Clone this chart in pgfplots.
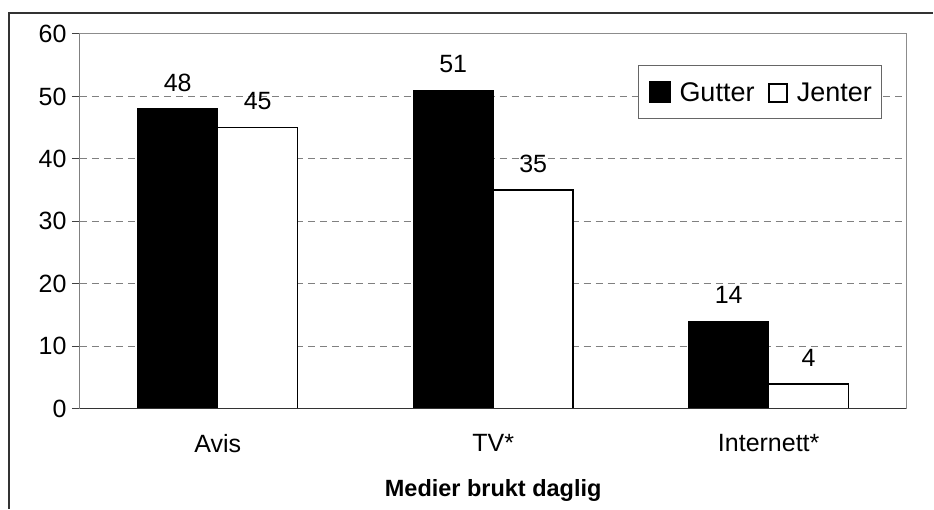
\documentclass[border=0pt]{standalone}
\usepackage{pgfplots}
\pgfplotsset{compat=1.18}
\usepackage{fontspec}
\setmainfont{Liberation Sans}

\begin{document}
\begin{tikzpicture}
  \begin{axis}[
      name=ax,
      scale only axis,
      width=827pt, height=375pt,
      ybar=0pt, bar width=80pt,
      xmin=-0.5, xmax=2.5,
      ymin=0, ymax=60,
      ytick={0,10,...,60},
      xtick={0,1,2},
      xticklabels={Avis,TV*,Internett*},
      extra x ticks={-0.5,0.5,1.5,2.5},
      extra x tick labels={},
      extra x tick style={major tick length=8pt, tick style={draw=gray!70!black, line width=1pt}},
      major x tick style={draw=none},
      xtick pos=bottom, ytick pos=left,
      tick align=outside,
      major tick length=8pt,
      tick style={draw=black!75, line width=1pt},
      axis line style={draw=gray!90, line width=1pt},
      ymajorgrids,
      grid style={draw=gray, line width=1pt, dash pattern=on 7pt off 5pt},
      tick label style={font=\fontsize{25}{29}\selectfont},
      /pgf/number format/assume math mode=true,
      yticklabel style={xshift=-2pt},
      xticklabel style={yshift=-14pt},
      xlabel={\textbf{Medier brukt daglig}},
      xlabel style={font=\fontsize{23.5}{27}\selectfont, yshift=-4pt},
      nodes near coords,
      every node near coord/.append style={font=\fontsize{25}{29}\selectfont, inner sep=0pt, anchor=south, yshift=17pt},
      legend style={at={(0.971,0.917)}, anchor=north east, legend columns=2,
        draw=gray!80!black, line width=1pt, fill=white,
        font=\fontsize{27}{31}\selectfont,
        nodes={inner sep=0pt},
        inner xsep=10pt, inner ysep=15pt,
        /tikz/every odd column/.append style={column sep=9pt},
        /tikz/every even column/.append style={column sep=14pt}},
      legend cell align=left,
    ]
    \addplot[fill=black, draw=black, line width=1pt,
      legend image code/.code={\draw[fill=black, draw=black, line width=1pt] (0pt,-9pt) rectangle (21pt,12pt);}]
      coordinates {(0,48) (1,51) (2,14)};
    \addplot[fill=white, draw=black, line width=1.5pt,
      legend image code/.code={\draw[fill=white, draw=black, line width=1.5pt] (0pt,-9pt) rectangle (18pt,9pt);}]
      coordinates {(0,45) (1,35) (2,4)};
    \legend{Gutter,Jenter}
    \draw[black!80, line width=1pt] (rel axis cs:0,0) -- (rel axis cs:0,1);
    \draw[black!80, line width=1pt] (rel axis cs:0,0) -- (rel axis cs:1,0);
  \end{axis}
  \draw[black!80, line width=1.2pt] (-71pt,-100pt) -- (-71pt,396pt) -- (854pt,396pt);
  \path[use as bounding box] (-80pt,-100pt) rectangle (854pt,409pt);
\end{tikzpicture}
\end{document}
